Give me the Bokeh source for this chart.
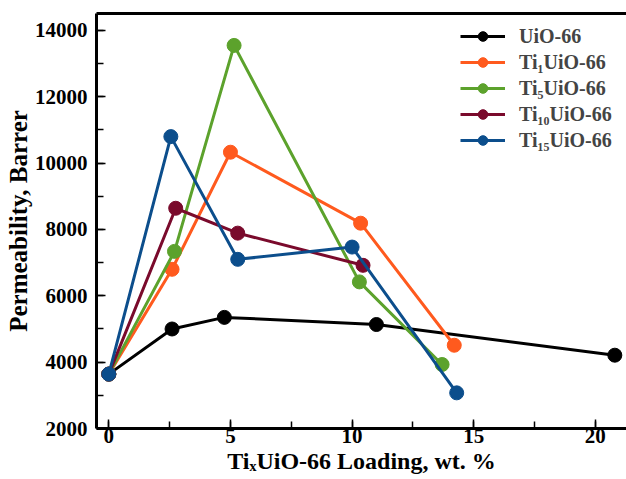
from bokeh.plotting import figure
from bokeh.models import SingleIntervalTicker, FixedTicker, Range1d, Legend, LinearAxis
from bokeh.embed import file_html
from bokeh.resources import INLINE

# Data
uio_x = [0, 2.6, 4.75, 11.0, 20.8]
uio_y = [3640, 5000, 5350, 5135, 4210]

ti1_x = [0, 2.6, 5.0, 10.35, 14.2]
ti1_y = [3640, 6800, 10330, 8190, 4510]

ti5_x = [0, 2.7, 5.15, 10.3, 13.7]
ti5_y = [3640, 7340, 13550, 6420, 3930]

ti10_x = [0, 2.75, 5.3, 10.45]
ti10_y = [3640, 8640, 7890, 6920]

ti15_x = [0, 2.55, 5.3, 10.0, 14.3]
ti15_y = [3640, 10800, 7100, 7470, 3075]

labels = ["UiO-66", "Ti\u2081UiO-66", "Ti\u2085UiO-66", "Ti\u2081\u2080UiO-66", "Ti\u2081\u2085UiO-66"]
colors = ["#000000", "#FF5A1E", "#5CA22C", "#7A0A2C", "#0C4E8C"]

FONT = "Liberation Serif"

p = figure(width=626, height=479, output_backend="svg", toolbar_location=None,
           x_range=Range1d(-0.506, 21.28), y_range=Range1d(2000, 14512),
           min_border_left=96, min_border_top=13, min_border_right=0, min_border_bottom=51)

series = [(uio_x, uio_y), (ti1_x, ti1_y), (ti5_x, ti5_y), (ti10_x, ti10_y), (ti15_x, ti15_y)]
items = []
for (xs, ys), lab, c in zip(series, labels, colors):
    r1 = p.line(xs, ys, line_color=c, line_width=3)
    r2 = p.scatter(xs, ys, size=14, fill_color=c, line_color=c)
    items.append((lab, [r1, r2]))

legend = Legend(items=items, location=(364, 276))
legend.label_text_font = FONT
legend.label_text_font_style = "bold"
legend.label_text_font_size = "20px"
legend.border_line_alpha = 0
legend.background_fill_alpha = 0
legend.glyph_width = 45
legend.glyph_height = 24
legend.label_height = 24
legend.spacing = 2
legend.label_standoff = 14
legend.margin = 0
legend.padding = 0
p.add_layout(legend, "center")

p.xgrid.visible = False
p.ygrid.visible = False
p.outline_line_color = None

# top border line (no ticks, no labels)
top_axis = LinearAxis(ticker=FixedTicker(ticks=[]), major_tick_in=0, major_tick_out=0,
                      minor_tick_in=0, minor_tick_out=0,
                      axis_line_width=3, axis_line_color="black")
p.add_layout(top_axis, "above")

xa = p.below[0]
ya = p.left[0]
xa.ticker = SingleIntervalTicker(interval=5, num_minor_ticks=2)
ya.ticker = SingleIntervalTicker(interval=2000, num_minor_ticks=2)

for ax in (xa, ya):
    ax.axis_line_width = 3
    ax.axis_line_color = "black"
    ax.major_tick_in = 9
    ax.major_tick_out = 0
    ax.minor_tick_in = 7
    ax.minor_tick_out = 0
    ax.major_tick_line_width = 1.5
    ax.minor_tick_line_width = 1.5
    ax.major_label_text_font = FONT
    ax.major_label_text_font_style = "bold"
    ax.major_label_text_font_size = "21px"
    ax.major_label_text_color = "black"
    ax.axis_label_text_font = FONT
    ax.axis_label_text_font_style = "bold"
    ax.axis_label_text_color = "black"

xa.axis_label = "Ti\u2093UiO-66 Loading, wt. %"
ya.axis_label = "Permeability, Barrer"
xa.axis_label_text_font_size = "24px"
ya.axis_label_text_font_size = "25px"
xa.major_label_standoff = 0
xa.axis_label_standoff = 2
ya.major_label_standoff = 9
ya.axis_label_standoff = 0

open("out.html", "w").write(file_html(p, INLINE))
